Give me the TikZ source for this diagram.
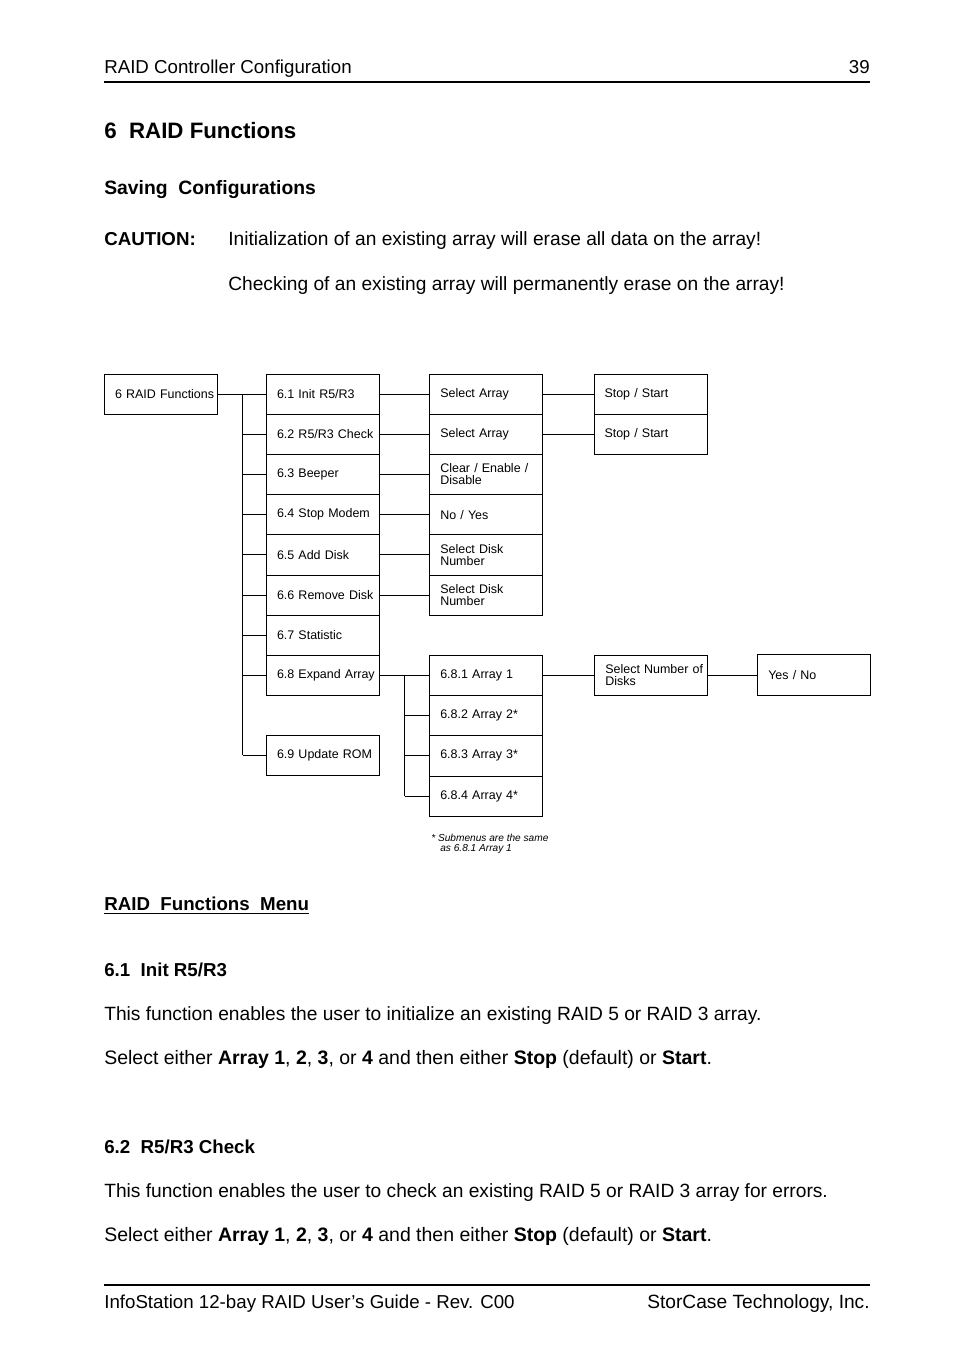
\documentclass[tikz,border=0pt]{standalone}
\usepackage{fontspec}
\setmainfont{Liberation Sans}
\newcommand{\nbl}[1]{\mbox{#1}}
\begin{document}
\begin{tikzpicture}[x=0.6415pt,y=-0.6415pt,
  txt/.style={anchor=base west, inner sep=0pt, font=\fontsize{12.3}{14}\selectfont},
  stxt/.style={anchor=base west, inner sep=0pt, font=\fontsize{12.5}{14}\selectfont},
  rtxt/.style={anchor=base east, inner sep=0pt, font=\fontsize{12}{14}\selectfont},
  hd/.style={anchor=base west, inner sep=0pt, font=\fontsize{12}{14}\selectfont\bfseries},
  menubox/.style={draw, line width=0.65pt, anchor=north west,
    minimum width=113*0.6415pt, minimum height=40.2*0.6415pt,
    text width=92*0.6415pt, inner xsep=10.5*0.6415pt, inner ysep=0pt,
    align=left, font=\fontsize{8}{7.7}\selectfont},
  conn/.style={line width=0.65pt},
  rule/.style={line width=0.9pt},
  note/.style={anchor=base west, inner sep=0pt, font=\fontsize{6.5}{7.5}\selectfont\itshape}]
\useasboundingbox (0,0) rectangle (954,1369);

% header
\node[anchor=base west, inner sep=0pt, font=\fontsize{12}{14}\selectfont] (htitle) at (104,73.5) {RAID Controller Configuration};
\node[rtxt] (hpage) at (870,73.5) {39};
\coordinate (hrl) at (104,82);
\coordinate (hrr) at (870,82);
\draw[rule] (hrl) -- (hrr);

\node[anchor=base west, inner sep=0pt, font=\fontsize{14.3}{16}\selectfont\bfseries] (title) at (104,138) {6\ \ RAID Functions};
\node[anchor=base west, inner sep=0pt, font=\fontsize{12.4}{14}\selectfont\bfseries] (saving) at (104,194.5) {Saving\ \ Configurations};
\node[hd] (caution) at (104,245.5) {CAUTION:};
\node[txt] (c1txt) at (228,245.5) {Initialization of an existing array will erase all data on the array!};
\node[txt] (c2txt) at (228,290.5) {Checking of an existing array will permanently erase on the array!};

% diagram
\node[menubox, inner xsep=9*0.6415pt] (root) at (104,373.5) {\nbl{6 RAID Functions}};

\node[menubox] (a1) at (266,373.5) {\nbl{6.1 Init R5/R3}};
\node[menubox] (a2) at (266,413.7) {\nbl{6.2 R5/R3 Check}};
\node[menubox] (a3) at (266,453.9) {\nbl{6.3 Beeper}};
\node[menubox] (a4) at (266,494.1) {\nbl{6.4 Stop Modem}};
\node[menubox] (a5) at (266,534.3) {\nbl{6.5 Add Disk}};
\node[menubox] (a6) at (266,574.5) {\nbl{6.6 Remove Disk}};
\node[menubox] (a7) at (266,614.7) {\nbl{6.7 Statistic}};
\node[menubox] (a8) at (266,654.9) {\nbl{6.8 Expand Array}};
\node[menubox] (a9) at (266,734.7) {\nbl{6.9 Update ROM}};

\node[menubox] (b1) at (429.3,373.5) {\nbl{Select Array}};
\node[menubox] (b2) at (429.3,413.7) {\nbl{Select Array}};
\node[menubox] (b3) at (429.3,453.9) {\nbl{Clear / Enable /}\\\nbl{Disable}};
\node[menubox] (b4) at (429.3,494.1) {\nbl{No / Yes}};
\node[menubox] (b5) at (429.3,534.3) {\nbl{Select Disk}\\\nbl{Number}};
\node[menubox] (b6) at (429.3,574.5) {\nbl{Select Disk}\\\nbl{Number}};

\node[menubox] (s1) at (593.5,373.5) {\nbl{Stop / Start}};
\node[menubox] (s2) at (593.5,413.7) {\nbl{Stop / Start}};

\node[menubox] (x1) at (429.3,654.9) {\nbl{6.8.1 Array 1}};
\node[menubox] (x2) at (429.3,695.1) {\nbl{6.8.2 Array 2*}};
\node[menubox] (x3) at (429.3,735.3) {\nbl{6.8.3 Array 3*}};
\node[menubox] (x4) at (429.3,775.5) {\nbl{6.8.4 Array 4*}};

\node[menubox] (sel) at (594.3,654.9) {\nbl{Select Number of}\\\nbl{Disks}};
\node[menubox] (yn) at (757.3,654.3) {\nbl{Yes / No}};

\node[note] (n1) at (431,841) {* Submenus are the same};
\node[note] (n2) at (440,851) {as 6.8.1 Array 1};

% connectors
\coordinate (tk) at (242.5,394);
\coordinate (tk2) at (404.5,675);
\draw[conn] (root.east) -- (a1.west);
\draw[conn] (tk |- a1.west) -- (tk |- a9.west);
\foreach \i in {2,...,9} {\draw[conn] (tk |- a\i.west) -- (a\i.west);}
\foreach \i in {1,...,6} {\draw[conn] (a\i.east) -- (b\i.west);}
\draw[conn] (b1.east) -- (s1.west);
\draw[conn] (b2.east) -- (s2.west);
\draw[conn] (a8.east) -- (x1.west);
\draw[conn] (tk2 |- x1.west) -- (tk2 |- x4.west);
\foreach \i in {2,3,4} {\draw[conn] (tk2 |- x\i.west) -- (x\i.west);}
\draw[conn] (x1.east) -- (sel.west);
\draw[conn] (sel.east) -- (sel.east -| yn.west);

% text below
\node[hd] (menu) at (104,910.5) {\underline{RAID\ \ Functions\ \ Menu}};
\node[hd] (h61) at (104,976.5) {6.1\ \ Init R5/R3};
\node[txt] (p61a) at (104,1020) {This function enables the user to initialize an existing RAID 5 or RAID 3 array.};
\node[stxt] (p61b) at (104,1064) {Select either \textbf{Array 1}, \textbf{2}, \textbf{3}, or \textbf{4} and then either \textbf{Stop} (default) or \textbf{Start}.};
\node[hd] (h62) at (104,1153.5) {6.2\ \ R5/R3 Check};
\node[txt] (p62a) at (104,1197.5) {This function enables the user to check an existing RAID 5 or RAID 3 array for errors.};
\node[stxt] (p62b) at (104,1241.5) {Select either \textbf{Array 1}, \textbf{2}, \textbf{3}, or \textbf{4} and then either \textbf{Stop} (default) or \textbf{Start}.};

% footer
\coordinate (frl) at (104,1285);
\coordinate (frr) at (870,1285);
\draw[rule] (frl) -- (frr);
\node[anchor=base west, inner sep=0pt, font=\fontsize{12}{14}\selectfont] (fl) at (104,1308.5) {InfoStation 12-bay RAID User's Guide - Rev. C00};
\node[anchor=base east, inner sep=0pt, font=\fontsize{12.3}{14}\selectfont] (fr) at (870,1308.5) {StorCase Technology, Inc.};
\end{tikzpicture}
\end{document}
